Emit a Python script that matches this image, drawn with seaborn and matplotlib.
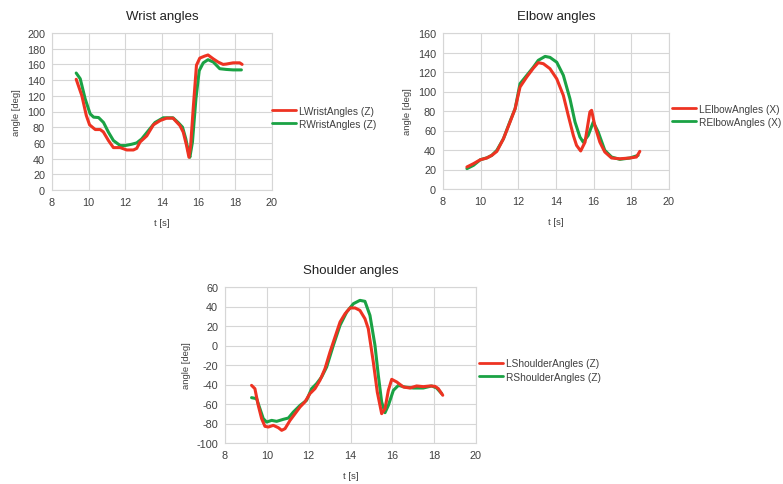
import numpy as np
import pandas as pd
import matplotlib
matplotlib.use("Agg")
import matplotlib.pyplot as plt
import seaborn as sns

# ---------------- data ----------------
wrist_L_t = [9.32, 9.63, 9.87, 10.05, 10.36, 10.63, 10.8, 11.08, 11.35, 11.72, 12.08, 12.44, 12.62, 12.8, 13.17, 13.53, 13.9, 14.25, 14.6, 14.98, 15.16, 15.34, 15.47, 15.56, 15.7, 15.88, 16.06, 16.33, 16.51, 16.8, 17.06, 17.33, 17.5, 17.88, 18.24, 18.37]
wrist_L_v = [141, 120, 95, 83, 77, 77, 74, 63, 54, 54, 51, 51, 53, 61, 69, 83, 88.5, 91.5, 91.5, 82, 73.6, 56.6, 41.7, 56, 103, 159, 168, 170.6, 172, 167, 163, 160, 160.4, 162, 162, 160]
wrist_R_t = [9.32, 9.54, 9.81, 10.08, 10.27, 10.54, 10.81, 11.08, 11.35, 11.72, 11.99, 12.35, 12.62, 12.89, 13.26, 13.62, 14.07, 14.6, 14.88, 15.12, 15.3, 15.43, 15.52, 15.66, 15.85, 16.03, 16.25, 16.51, 16.8, 17.15, 17.5, 17.88, 18.33]
wrist_R_v = [149, 141.7, 116, 97, 92.8, 92.3, 86, 73.6, 63, 56.6, 56.6, 58.3, 60, 65, 75.7, 86, 92, 92, 86, 80, 65, 50, 41.7, 61, 116, 152, 162, 166, 163, 154.5, 153.6, 153, 153]

elbow_L_t = [9.27, 9.62, 9.98, 10.33, 10.59, 10.86, 11.21, 11.56, 11.83, 12.09, 12.45, 12.8, 13.06, 13.33, 13.68, 14.04, 14.39, 14.65, 14.92, 15.09, 15.31, 15.54, 15.8, 15.89, 16.06, 16.33, 16.59, 16.95, 17.39, 17.92, 18.27, 18.45]
elbow_L_v = [22.6, 26, 30, 31.8, 34.5, 38.6, 51.6, 68.7, 82.4, 104.6, 115, 124, 129.6, 128.5, 123.4, 113, 96, 75.5, 55, 44.8, 39, 48, 79, 80.7, 65, 48, 38, 31.8, 31, 31.8, 32.8, 38.6]
elbow_R_t = [9.27, 9.62, 9.98, 10.33, 10.59, 10.86, 11.21, 11.56, 11.83, 12.09, 12.45, 12.8, 13.06, 13.42, 13.68, 14.04, 14.39, 14.74, 15.01, 15.27, 15.45, 15.71, 15.98, 16.24, 16.59, 16.95, 17.39, 17.92, 18.36]
elbow_R_v = [20.9, 24.3, 30, 32, 34.5, 39.7, 51.6, 69.4, 82.4, 108, 116.6, 125, 132, 136, 135, 130, 116.6, 92.6, 68.7, 53.3, 48, 55, 68.7, 58.5, 39.7, 32.8, 30.4, 31.8, 34.5]

shoulder_L_t = [9.27, 9.43, 9.59, 9.75, 9.91, 10.07, 10.31, 10.55, 10.71, 10.87, 11.11, 11.35, 11.59, 11.82, 12.06, 12.3, 12.54, 12.78, 13.02, 13.26, 13.5, 13.74, 13.98, 14.22, 14.45, 14.69, 14.85, 15.09, 15.28, 15.49, 15.65, 15.81, 15.97, 16.21, 16.53, 16.84, 17.16, 17.48, 17.8, 18.04, 18.2, 18.41]
shoulder_L_v = [-40.9, -44.3, -61.4, -75, -82.9, -83.6, -81.9, -84.3, -87, -85.3, -76.8, -69.9, -63, -57.9, -49.4, -44.3, -35.7, -23.8, -6.7, 8.7, 24.1, 32.6, 38.5, 38.5, 36, 27.5, 17.3, -16.9, -47.7, -69.9, -64.8, -46, -34.7, -37.4, -42.6, -43.6, -41.5, -42.2, -41.5, -41.9, -44.3, -51]
shoulder_R_t = [9.27, 9.51, 9.67, 9.83, 9.99, 10.23, 10.47, 10.79, 11.03, 11.27, 11.59, 11.9, 12.14, 12.38, 12.62, 12.86, 13.18, 13.5, 13.82, 14.14, 14.45, 14.69, 14.93, 15.17, 15.33, 15.49, 15.65, 15.81, 16.05, 16.29, 16.6, 17.0, 17.48, 17.88, 18.12, 18.36]
shoulder_R_v = [-53.5, -54.5, -64.8, -75, -78.5, -76.8, -77.8, -75.7, -74.4, -68.2, -61.4, -56.2, -44.3, -39.1, -32.3, -22, 0.2, 20.7, 34.4, 42.9, 46.3, 45.3, 30.9, 0.2, -30.6, -58, -68.9, -61.4, -46, -40.9, -42.6, -43.6, -43.6, -41.5, -43.6, -49.4]

x_ticks = [8, 10, 12, 14, 16, 18, 20]
wrist_y_ticks = [0, 20, 40, 60, 80, 100, 120, 140, 160, 180, 200]
elbow_y_ticks = [0, 20, 40, 60, 80, 100, 120, 140, 160]
shoulder_y_ticks = [-100, -80, -60, -40, -20, 0, 20, 40, 60]

titles = ["Wrist angles", "Elbow angles", "Shoulder angles"]
names = [("LWristAngles (Z)", "RWristAngles (Z)"),
         ("LElbowAngles (X)", "RElbowAngles (X)"),
         ("LShoulderAngles (Z)", "RShoulderAngles (Z)")]

# ---------------- style ----------------
sns.set_style("whitegrid")
plt.rcParams["font.family"] = ["Liberation Sans", "DejaVu Sans"]
plt.rcParams["axes.unicode_minus"] = False
RED = "#ee3322"
GREEN = "#1aa244"
GRID = "#d6d6d6"
TXT = "#404040"

def make_df(tL, vL, tR, vR, nL, nR):
    a = pd.DataFrame({"t": tL, "v": vL, "series": nL})
    b = pd.DataFrame({"t": tR, "v": vR, "series": nR})
    return pd.concat([a, b], ignore_index=True)

fig = plt.figure(figsize=(7.83, 4.85), dpi=100)

axes_rects = [
    [52 / 783, 1 - 191 / 485, 220 / 783, 157 / 485],
    [443 / 783, 1 - 190 / 485, 226 / 783, 156 / 485],
    [225 / 783, 1 - 444 / 485, 251 / 783, 156 / 485],
]
legend_anchor = [(272 / 783, 1 - 118.5 / 485), (672 / 783, 1 - 116.5 / 485), (479 / 783, 1 - 371 / 485)]
data = [
    (wrist_L_t, wrist_L_v, wrist_R_t, wrist_R_v, wrist_y_ticks),
    (elbow_L_t, elbow_L_v, elbow_R_t, elbow_R_v, elbow_y_ticks),
    (shoulder_L_t, shoulder_L_v, shoulder_R_t, shoulder_R_v, shoulder_y_ticks),
]

for i in range(3):
    tL, vL, tR, vR, yt = data[i]
    nL, nR = names[i]
    ax = fig.add_axes(axes_rects[i])
    df = make_df(tL, vL, tR, vR, nL, nR)
    sns.lineplot(data=df, x="t", y="v", hue="series", hue_order=[nL, nR],
                 palette=[RED, GREEN], sort=False, estimator=None,
                 linewidth=2.2, ax=ax, legend=True)
    lines = ax.get_lines()
    if len(lines) >= 2:
        lines[0].set_zorder(4)
        lines[1].set_zorder(3)
    for ln in lines:
        ln.set_solid_joinstyle("round")
        ln.set_solid_capstyle("round")
    ax.set_xlim(8, 20)
    ax.set_ylim(yt[0], yt[-1])
    ax.set_xticks(x_ticks)
    ax.set_yticks(yt)
    ax.grid(True, color=GRID, linewidth=0.8)
    for s in ax.spines.values():
        s.set_color(GRID)
        s.set_linewidth(0.8)
    ax.tick_params(axis="both", labelsize=7.8, colors=GRID, labelcolor=TXT,
                   length=3, width=0.8, pad=2)
    ax.tick_params(axis="x", length=0, pad=5)
    ax.set_xlabel("t [s]", fontsize=6.8, color=TXT, labelpad=8)
    ax.set_ylabel("angle [deg]", fontsize=6.8, color=TXT, labelpad=4)
    ax.set_title(titles[i], fontsize=9.5, color="#222222", pad=10)
    leg = ax.legend(loc="center left", bbox_to_anchor=legend_anchor[i],
                    bbox_transform=fig.transFigure, frameon=False,
                    fontsize=7.3, handlelength=2.4, handletextpad=0.25,
                    labelspacing=0.3, borderpad=0, borderaxespad=0)
    for txt in leg.get_texts():
        txt.set_color(TXT)
    for h in leg.get_lines():
        h.set_linewidth(2.0)

fig.savefig("out.png", dpi=100)
